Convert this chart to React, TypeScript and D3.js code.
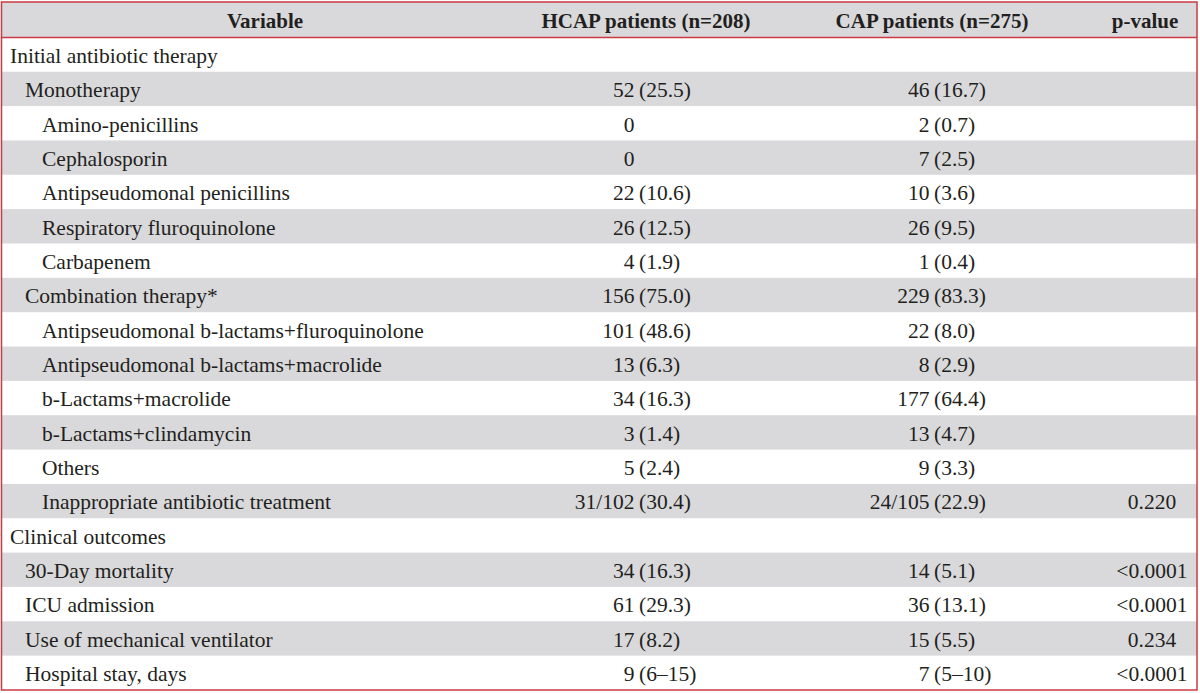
import React from "react";
import * as d3 from "d3";

const headers = ["Variable", "HCAP patients (n=208)", "CAP patients (n=275)", "p-value"];

const labels = [
  "Initial antibiotic therapy",
  "Monotherapy",
  "Amino-penicillins",
  "Cephalosporin",
  "Antipseudomonal penicillins",
  "Respiratory fluroquinolone",
  "Carbapenem",
  "Combination therapy*",
  "Antipseudomonal b-lactams+fluroquinolone",
  "Antipseudomonal b-lactams+macrolide",
  "b-Lactams+macrolide",
  "b-Lactams+clindamycin",
  "Others",
  "Inappropriate antibiotic treatment",
  "Clinical outcomes",
  "30-Day mortality",
  "ICU admission",
  "Use of mechanical ventilator",
  "Hospital stay, days",
];

const levels = [0, 1, 2, 2, 2, 2, 2, 1, 2, 2, 2, 2, 2, 2, 0, 1, 1, 1, 1];

const hcapValues = [
  "", "52 (25.5)", "0", "0", "22 (10.6)", "26 (12.5)", "4 (1.9)",
  "156 (75.0)", "101 (48.6)", "13 (6.3)", "34 (16.3)", "3 (1.4)", "5 (2.4)",
  "31/102 (30.4)", "", "34 (16.3)", "61 (29.3)", "17 (8.2)", "9 (6–15)",
];

const capValues = [
  "", "46 (16.7)", "2 (0.7)", "7 (2.5)", "10 (3.6)", "26 (9.5)", "1 (0.4)",
  "229 (83.3)", "22 (8.0)", "8 (2.9)", "177 (64.4)", "13 (4.7)", "9 (3.3)",
  "24/105 (22.9)", "", "14 (5.1)", "36 (13.1)", "15 (5.5)", "7 (5–10)",
];

const pValues = [
  "", "", "", "", "", "", "", "", "", "", "", "", "",
  "0.220", "", "<0.0001", "<0.0001", "0.234", "<0.0001",
];

const W = 1200;
const H = 693;
const RED = "#cc3a44";
const GREY = "#d9d9db";
const TEXT = "#231f20";
const FONT = "'Liberation Serif', 'Times New Roman', serif";
const FS = 21.5;

function splitValue(v: string): [string, string] {
  const i = v.indexOf(" (");
  if (i < 0) return [v, ""];
  return [v.slice(0, i), v.slice(i + 1)];
}

export default function App() {
  const left = 1.5;
  const right = 1197;
  const top = 2;
  const headerBottom = 37.4;
  const bottom = 690;

  const y = d3
    .scaleBand<number>()
    .domain(d3.range(labels.length))
    .range([headerBottom, bottom])
    .padding(0);

  const indent = d3.scaleOrdinal<number, number>().domain([0, 1, 2]).range([10, 25, 42]);

  const hcapParenX = 639;
  const capParenX = 934;
  const pCenter = 1152;
  const gap = 4.5;

  const headerX = [265, 646, 932, 1145];

  const renderValue = (v: string, parenX: number, key: string, baseY: number) => {
    if (!v) return null;
    const [main, paren] = splitValue(v);
    return (
      <g key={key}>
        <text x={parenX - gap} y={baseY} textAnchor="end">
          {main}
        </text>
        {paren && (
          <text x={parenX} y={baseY} textAnchor="start">
            {paren}
          </text>
        )}
      </g>
    );
  };

  const bh = y.bandwidth();

  return (
    <div style={{ position: "absolute", left: 0, top: 0, width: W, height: H }}>
      <svg width={W} height={H} style={{ display: "block", background: "#fff" }}>
        <g fontFamily={FONT} fontSize={FS} fill={TEXT}>
          <rect x={left} y={top} width={right - left} height={headerBottom - top} fill={GREY} />
          {labels.map((_, i) =>
            i % 2 === 1 ? (
              <rect key={"s" + i} x={left} y={y(i)!} width={right - left} height={bh} fill={GREY} />
            ) : null
          )}
          {headers.map((h, i) => (
            <text key={"h" + i} x={headerX[i]} y={top + 26} textAnchor="middle" fontWeight="bold" fontSize={21}>
              {h}
            </text>
          ))}
          {labels.map((lab, i) => {
            const base = y(i)! + 25.5;
            return (
              <g key={"r" + i}>
                <text x={indent(levels[i])} y={base}>
                  {lab}
                </text>
                {renderValue(hcapValues[i], hcapParenX, "h" + i, base)}
                {renderValue(capValues[i], capParenX, "c" + i, base)}
                {pValues[i] && (
                  <text x={pCenter} y={base} textAnchor="middle">
                    {pValues[i]}
                  </text>
                )}
              </g>
            );
          })}
          <line x1={left} x2={right} y1={headerBottom} y2={headerBottom} stroke={RED} strokeWidth={1.5} />
          <rect
            x={left}
            y={top}
            width={right - left}
            height={bottom - top}
            fill="none"
            stroke={RED}
            strokeWidth={1.5}
          />
        </g>
      </svg>
    </div>
  );
}
